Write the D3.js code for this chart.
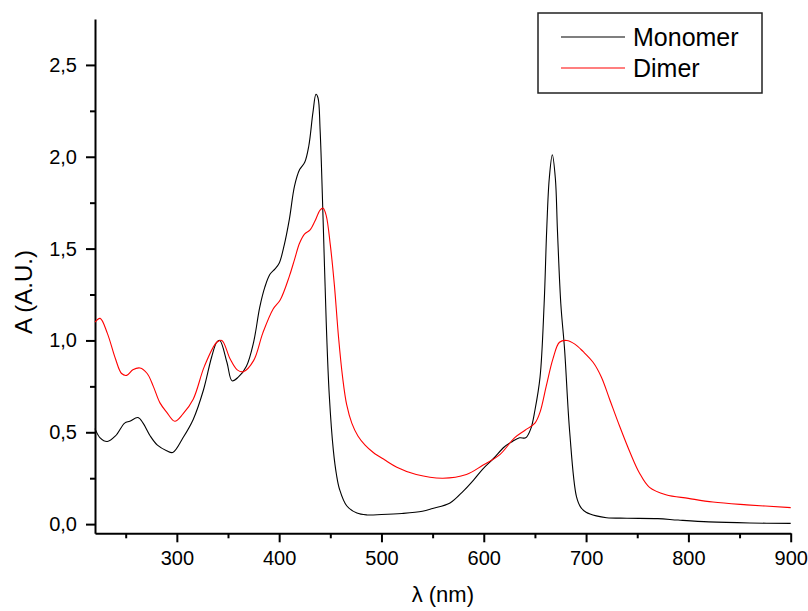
<!DOCTYPE html>
<html>
<head>
<meta charset="utf-8">
<script src="https://cdn.jsdelivr.net/npm/d3@7"></script>
<style>
  body { margin: 0; background: #fff; }
  text { font-family: "Liberation Sans", Arial, sans-serif; }
</style>
</head>
<body>
<div id="chart"></div>
<script>
// absorption spectra
var monomerNm = [220, 225, 232, 240, 249, 254, 262, 267, 274, 281, 290, 296, 306, 316, 326, 334, 339, 342,
  349, 354, 360, 368, 375, 381, 386, 391, 396, 400, 405, 410, 415, 420, 425, 429, 433, 436, 438, 440,
  443, 446, 449, 453, 456, 459, 466, 476, 486, 500, 520, 540, 550, 567, 580, 590, 599, 610, 620, 628,
  635, 641, 646, 650, 655, 659, 661.5, 664, 667, 670, 672, 675.3, 679, 684, 690.6, 695, 700, 710, 720,
  740, 770, 790, 820, 860, 900];
var monomerA = [0.52, 0.47, 0.45, 0.48, 0.55, 0.56, 0.58, 0.55, 0.48, 0.43, 0.40, 0.39, 0.47, 0.57, 0.73, 0.91, 0.99, 1.00,
  0.88, 0.78, 0.80, 0.86, 0.99, 1.18, 1.29, 1.36, 1.39, 1.42, 1.52, 1.66, 1.84, 1.93, 1.97, 2.06, 2.24, 2.34, 2.32, 2.15,
  1.65, 1.10, 0.70, 0.40, 0.27, 0.19, 0.10, 0.06, 0.05, 0.052, 0.058, 0.07, 0.085, 0.115, 0.18, 0.24, 0.30, 0.36, 0.42, 0.45,
  0.47, 0.47, 0.52, 0.62, 0.80, 1.20, 1.60, 1.88, 2.01, 1.88, 1.60, 1.20, 0.95, 0.50, 0.15, 0.09, 0.065, 0.045, 0.035,
  0.032, 0.03, 0.022, 0.012, 0.006, 0.004];

var dimerNm = [220, 225, 232, 240, 246, 251, 257, 264, 271, 277, 283.5, 290, 298, 306, 316, 327, 339, 344,
  352, 359, 365, 375, 384, 394, 401, 410, 415, 420, 425, 430, 435, 440, 443, 446, 450, 454, 458, 462,
  466, 471, 477, 484, 492, 503, 515, 534, 560, 583, 599, 616, 630, 640, 650, 655, 661, 667.6, 674, 681,
  689, 697, 707, 715, 723, 733, 743, 752, 762, 778, 800, 824, 857, 900];
var dimerA = [1.10, 1.12, 1.04, 0.90, 0.82, 0.81, 0.84, 0.85, 0.82, 0.75, 0.66, 0.61, 0.56, 0.60, 0.68, 0.86, 0.99, 1.00,
  0.90, 0.84, 0.83, 0.89, 1.04, 1.17, 1.22, 1.35, 1.44, 1.53, 1.58, 1.60, 1.65, 1.71, 1.72, 1.68, 1.52, 1.30, 1.02, 0.80,
  0.65, 0.55, 0.48, 0.43, 0.39, 0.35, 0.31, 0.27, 0.25, 0.27, 0.32, 0.38, 0.47, 0.51, 0.55, 0.61, 0.75, 0.90, 0.99, 1.00,
  0.98, 0.94, 0.88, 0.80, 0.68, 0.53, 0.39, 0.28, 0.20, 0.16, 0.14, 0.12, 0.105, 0.09];

var xTicks = [300, 400, 500, 600, 700, 800, 900];
var xMinor = [250, 350, 450, 550, 650, 750, 850];
var yTicks = [0, 0.5, 1.0, 1.5, 2.0, 2.5];
var yMinor = [0.25, 0.75, 1.25, 1.75, 2.25];
var seriesNames = ["Monomer", "Dimer"];
var seriesColors = ["#000000", "#ff0000"];

var width = 808, height = 611;
var plotLeft = 95, plotRight = 790.7, plotTop = 19, plotBottom = 533.3;

var svg = d3.select("#chart").append("svg")
    .attr("width", width)
    .attr("height", height);

var xScale = d3.scaleLinear().domain([220, 900]).range([plotLeft, plotRight]);
var yScale = d3.scaleLinear().domain([-0.05, 2.75]).range([plotBottom, plotTop]);

var fmt = function(d) { return d3.format(".1f")(d).replace(".", ","); };

// minor ticks first, then the main axes over them
svg.append("g")
    .attr("transform", "translate(0," + plotBottom + ")")
    .call(d3.axisBottom(xScale).tickValues(xMinor).tickSize(5).tickSizeOuter(0).tickFormat(""))
    .call(function(g) { g.select(".domain").remove(); });
svg.append("g")
    .attr("transform", "translate(" + plotLeft + ",0)")
    .call(d3.axisLeft(yScale).tickValues(yMinor).tickSize(5).tickSizeOuter(0).tickFormat(""))
    .call(function(g) { g.select(".domain").remove(); });

svg.append("g")
    .attr("transform", "translate(0," + plotBottom + ")")
    .call(d3.axisBottom(xScale).tickValues(xTicks).tickSize(9).tickPadding(9).tickSizeOuter(0));
svg.append("g")
    .attr("transform", "translate(" + plotLeft + ",0)")
    .call(d3.axisLeft(yScale).tickValues(yTicks).tickSize(9).tickPadding(9).tickSizeOuter(0).tickFormat(fmt));

svg.selectAll(".domain").attr("stroke", "#000").attr("stroke-width", 2);
svg.selectAll(".tick line").attr("stroke", "#000").attr("stroke-width", 2);
svg.selectAll(".tick text")
    .attr("fill", "#000")
    .style("font-size", "20px")
    .style("font-family", "'Liberation Sans', Arial, sans-serif");

// axis titles
svg.append("text")
    .attr("x", (plotLeft + plotRight) / 2)
    .attr("y", 602)
    .attr("text-anchor", "middle")
    .style("font-size", "22px")
    .text("λ (nm)");
svg.append("text")
    .attr("transform", "translate(32,292) rotate(-90)")
    .attr("text-anchor", "middle")
    .style("font-size", "24px")
    .text("A (A.U.)");

var line = d3.line()
    .x(function(d) { return xScale(d[0]); })
    .y(function(d) { return yScale(d[1]); })
    .curve(d3.curveCatmullRom.alpha(0.5));

var series = [
  d3.zip(monomerNm, monomerA),
  d3.zip(dimerNm, dimerA)
];

series.forEach(function(s, i) {
    svg.append("path")
        .datum(s)
        .attr("fill", "none")
        .attr("stroke", seriesColors[i])
        .attr("stroke-width", 1.1)
        .attr("d", line);
});

// legend
var legend = svg.append("g");
legend.append("rect")
    .attr("x", 538).attr("y", 13)
    .attr("width", 224).attr("height", 80)
    .attr("fill", "#fff")
    .attr("stroke", "#222")
    .attr("stroke-width", 1.5);
seriesNames.forEach(function(name, i) {
    var ly = 37 + i * 31;
    legend.append("line")
        .attr("x1", 561).attr("x2", 625)
        .attr("y1", ly).attr("y2", ly)
        .attr("stroke", seriesColors[i])
        .attr("stroke-width", 1.1);
    legend.append("text")
        .attr("x", 633)
        .attr("y", ly + 9)
        .style("font-size", "25px")
        .text(name);
});
</script>
</body>
</html>
